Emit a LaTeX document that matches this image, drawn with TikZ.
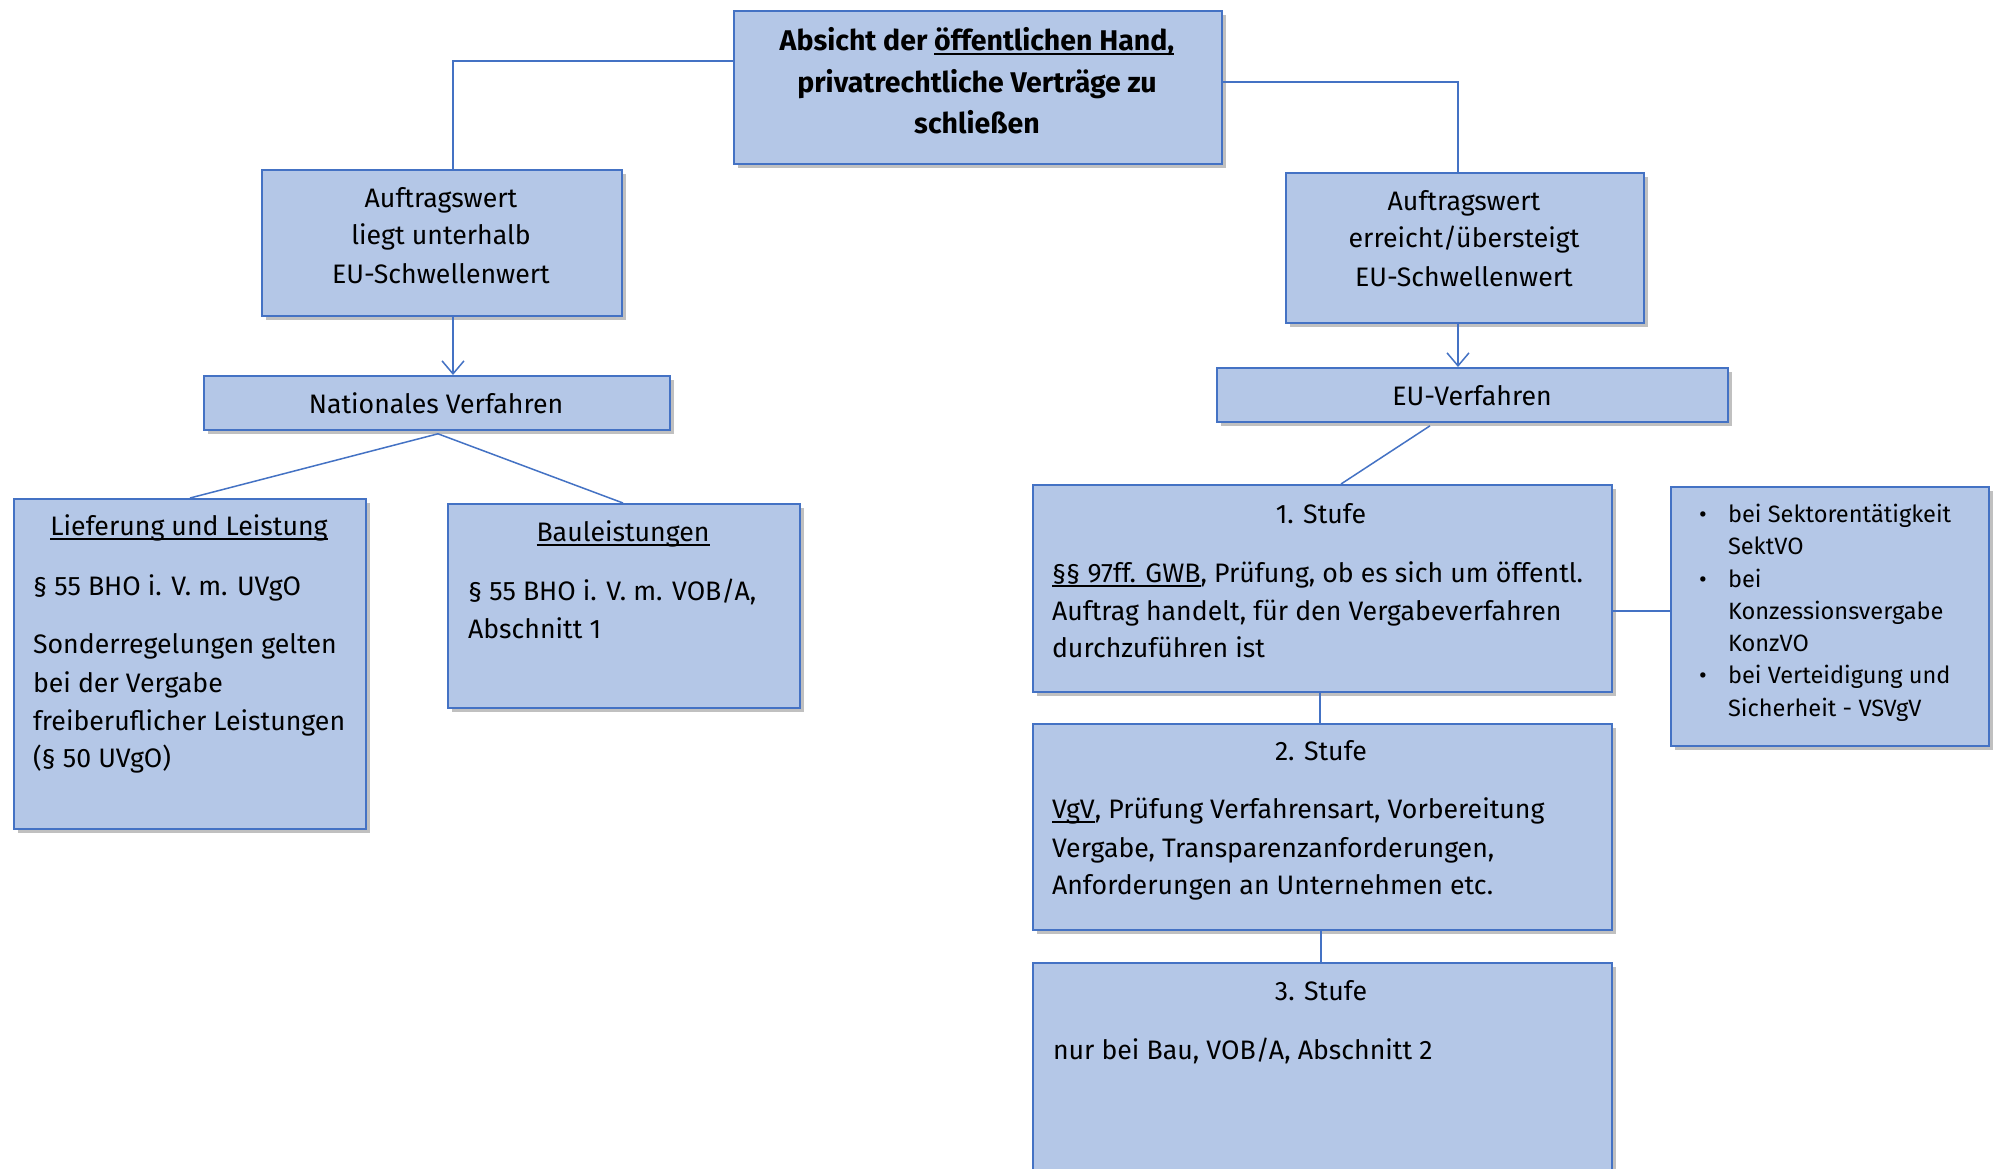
\documentclass[tikz,border=0pt]{standalone}
\usepackage{fontspec}
\setmainfont{Fira Sans}
\usetikzlibrary{arrows.meta,calc,shadows}
\definecolor{boxfill}{HTML}{B4C7E7}
\definecolor{boxline}{HTML}{4472C4}
\newcommand\ulx[1]{\setbox0\hbox{#1}\rlap{\rule[-4.5pt]{\wd0}{1.6pt}}\box0}
\tikzset{
  box/.style={draw=boxline, line width=1.8pt, fill=boxfill, anchor=north west, inner sep=0pt,
    drop shadow={shadow xshift=4pt, shadow yshift=-4pt, opacity=0.35, fill=black!70}},
  conn/.style={draw=boxline, line width=1.5pt},
  arr/.style={conn, -{Straight Barb[length=13pt, width=22pt, line width=1.5pt]}},
  txt/.style={inner sep=0pt, outer sep=0pt, text=black, font=\fontsize{26.7}{30}\selectfont},
  btxt/.style={txt, font=\fontsize{28.5}{30}\selectfont\bfseries},
  stxt/.style={txt, font=\fontsize{23.6}{26}\selectfont},
}
\begin{document}
\begin{tikzpicture}[x=1pt,y=-1pt]
\useasboundingbox (0,0) rectangle (1996,1168);
\clip (0,0) rectangle (1996,1168);
\fill[white] (0,0) rectangle (1996,1168);

% boxes
\node[box, minimum width=488pt, minimum height=153pt] (top) at (733,10) {};
\node[box, minimum width=360pt, minimum height=146pt] (la) at (261,169) {};
\node[box, minimum width=358pt, minimum height=150pt] (ra) at (1285,172) {};
\node[box, minimum width=466pt, minimum height=54pt] (nv) at (203,375) {};
\node[box, minimum width=511pt, minimum height=54pt] (eu) at (1216,367) {};
\node[box, minimum width=352pt, minimum height=330pt] (ll) at (13,498) {};
\node[box, minimum width=352pt, minimum height=204pt] (bl) at (447,503) {};
\node[box, minimum width=579pt, minimum height=207pt] (s1) at (1032,484) {};
\node[box, minimum width=318pt, minimum height=259pt] (sd) at (1670,486) {};
\node[box, minimum width=579pt, minimum height=206pt] (s2) at (1032,723) {};
\node[box, minimum width=579pt, minimum height=240pt] (s3) at (1032,962) {};

% connectors
\draw[conn] ($(top.north west)+(0,51)$) -| ($(la.north west)+(192,0)$);
\draw[conn] ($(top.north east)+(0,72)$) -| ($(ra.north west)+(173,0)$);
\draw[arr] ($(la.south west)+(192,0)$) -- ($(nv.north west)+(250,0)$);
\draw[arr] ($(ra.south west)+(173,0)$) -- ($(eu.north west)+(242,0)$);
\coordinate (nvb) at ($(nv.south west)+(235,3)$);
\draw[conn] (nvb) -- ($(ll.north west)+(177,0)$);
\draw[conn] (nvb) -- ($(bl.north west)+(176,0)$);
\draw[conn] ($(eu.south west)+(214,3)$) -- ($(s1.north west)+(309,0)$);
\draw[conn] ($(s1.north east)+(0,127)$) -- ($(sd.north west)+(0,125)$);
\draw[conn] ($(s1.south west)+(288,0)$) -- ($(s2.north west)+(288,0)$);
\draw[conn] ($(s2.south west)+(289,0)$) -- ($(s3.north west)+(289,0)$);

% top box text
\node[btxt, anchor=base] (t1) at (977,50) {Absicht der \ulx{öffentlichen Hand,}};
\node[btxt, anchor=base] (t2) at (977,92) {privatrechtliche Verträge zu};
\node[btxt, anchor=base] (t3) at (977,133) {schließen};

% left Auftragswert
\node[txt, anchor=base] (la1) at (441,207) {Auftragswert};
\node[txt, anchor=base] (la2) at (441,244) {liegt unterhalb};
\node[txt, anchor=base] (la3) at (441,283) {EU-Schwellenwert};

% right Auftragswert
\node[txt, anchor=base] (ra1) at (1464,210) {Auftragswert};
\node[txt, anchor=base] (ra2) at (1464,247) {erreicht/übersteigt};
\node[txt, anchor=base] (ra3) at (1464,286) {EU-Schwellenwert};

\node[txt, anchor=base] (nvt) at (436,413) {Nationales Verfahren};
\node[txt, anchor=base] (eut) at (1472,405) {EU-Verfahren};

% Lieferung und Leistung
\node[txt, anchor=base] (ll0) at (189,535) {\ulx{Lieferung und Leistung}};
\node[txt, anchor=base west] (ll1) at (33,595) {§ 55 BHO i. V. m. UVgO};
\node[txt, anchor=base west] (ll2) at (33,653) {Sonderregelungen gelten};
\node[txt, anchor=base west] (ll3) at (33,692) {bei der Vergabe};
\node[txt, anchor=base west] (ll4) at (33,730) {freiberuflicher Leistungen};
\node[txt, anchor=base west] (ll5) at (33,767) {(§ 50 UVgO)};

% Bauleistungen
\node[txt, anchor=base] (bl0) at (623,541) {\ulx{Bauleistungen}};
\node[txt, anchor=base west] (bl1) at (468,600) {§ 55 BHO i. V. m. VOB/A,};
\node[txt, anchor=base west] (bl2) at (468,638) {Abschnitt 1};

% 1. Stufe
\node[txt, anchor=base] (s10) at (1321,523) {1. Stufe};
\node[txt, anchor=base west] (s11) at (1052,582) {\ulx{§§ 97ff. GWB}, Prüfung, ob es sich um öffentl.};
\node[txt, anchor=base west] (s12) at (1052,620) {Auftrag handelt, für den Vergabeverfahren};
\node[txt, anchor=base west] (s13) at (1052,657) {durchzuführen ist};

% 2. Stufe
\node[txt, anchor=base] (s20) at (1321,760) {2. Stufe};
\node[txt, anchor=base west] (s21) at (1052,818) {\ulx{VgV}, Prüfung Verfahrensart, Vorbereitung};
\node[txt, anchor=base west] (s22) at (1052,857) {Vergabe, Transparenzanforderungen,};
\node[txt, anchor=base west] (s23) at (1052,894) {Anforderungen an Unternehmen etc.};

% 3. Stufe
\node[txt, anchor=base] (s30) at (1321,1000) {3. Stufe};
\node[txt, anchor=base west] (s31) at (1053,1059) {nur bei Bau, VOB/A, Abschnitt 2};

% side list
\node[stxt, anchor=base] (b1) at (1703,522) {•};
\node[stxt, anchor=base] (b2) at (1703,587) {•};
\node[stxt, anchor=base] (b3) at (1703,683) {•};
\node[stxt, anchor=base west] (sd1) at (1728,522) {bei Sektorentätigkeit};
\node[stxt, anchor=base west] (sd2) at (1728,554) {SektVO};
\node[stxt, anchor=base west] (sd3) at (1728,587) {bei};
\node[stxt, anchor=base west] (sd4) at (1728,619) {Konzessionsvergabe};
\node[stxt, anchor=base west] (sd5) at (1728,651) {KonzVO};
\node[stxt, anchor=base west] (sd6) at (1728,683) {bei Verteidigung und};
\node[stxt, anchor=base west] (sd7) at (1728,716) {Sicherheit - VSVgV};
\end{tikzpicture}
\end{document}
